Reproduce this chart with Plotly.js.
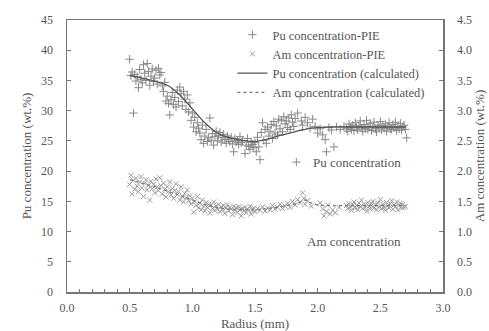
<!DOCTYPE html>
<html>
<head>
<meta charset="utf-8">
<script src="https://cdn.plot.ly/plotly-3.0.1.min.js"></script>
<style>html,body{margin:0;padding:0;background:#fff;}#chart{width:489px;height:331px;}</style>
</head>
<body>
<div id="chart"></div>
<script>
// Pu concentration measured (PIE), wt.%
const puRadius = [0.50,0.51,0.52,0.53,0.54,0.55,0.56,0.57,0.58,0.59,0.60,0.61,0.62,0.63,0.64,0.65,0.66,0.67,0.68,0.69,0.70,0.71,0.72,0.73,0.74,0.75,0.76,0.77,0.78,
  0.79,0.80,0.81,0.82,0.83,0.84,0.85,0.86,0.87,0.88,0.89,0.90,0.91,0.92,0.93,0.94,0.95,0.96,0.97,0.98,
  0.99,1.00,1.01,1.02,1.03,1.04,1.05,1.06,1.07,1.08,1.09,1.10,1.11,1.12,1.13,1.14,1.15,1.16,1.17,1.18,1.19,1.20,
  1.21,1.22,1.23,1.24,1.25,1.26,1.27,1.28,1.29,1.30,1.31,1.32,1.33,1.34,1.35,1.36,1.37,1.38,1.39,1.40,1.42,1.43,1.44,1.45,1.46,1.47,1.48,1.49,1.50,
  1.51,1.52,1.53,1.54,1.55,1.56,1.57,1.58,1.59,1.60,1.61,1.62,1.63,1.64,1.65,1.66,1.67,1.68,1.69,1.70,1.71,1.72,1.73,1.74,1.75,1.76,1.77,1.78,1.79,1.80,1.81,1.82,1.83,1.84,1.86,1.87,1.88,1.90,1.92,1.94,
  1.96,1.98,2.00,2.02,2.04,2.06,2.07,2.09,2.11,2.13,2.15,2.18,2.21,
  2.23,2.24,2.25,2.26,2.27,2.28,2.29,2.30,2.31,2.32,2.33,2.34,2.35,2.36,2.37,2.38,2.39,2.40,2.41,2.42,2.43,2.44,2.45,2.46,2.47,2.48,2.49,2.50,2.51,2.52,2.53,2.54,2.55,2.56,2.57,2.58,2.59,2.60,2.61,2.62,2.63,2.64,2.65,2.66,2.67,2.68,2.69,2.70,2.71];
const puPIE = [38.5,35.8,36.4,29.6,36.0,34.9,35.6,33.8,36.8,35.2,34.6,37.6,36.2,35.0,37.8,36.5,34.2,35.7,36.9,34.8,35.4,36.7,34.4,37.0,35.9,36.3,34.1,33.2,34.7,
  31.6,32.4,31.2,29.3,31.8,33.0,31.0,32.2,30.6,33.4,31.5,33.9,32.8,30.8,33.2,31.9,30.2,32.6,29.8,31.3,
  28.4,29.6,27.3,28.9,26.5,28.0,27.1,26.3,25.2,27.6,24.6,25.8,26.9,24.9,25.5,28.8,25.1,26.2,24.3,25.7,26.6,25.0,
  25.9,26.4,24.8,25.6,26.1,25.2,24.6,25.8,25.3,24.9,25.6,24.5,23.2,25.4,24.8,25.1,24.4,25.7,24.7,25.0,22.9,24.3,25.4,24.1,23.6,24.8,24.4,23.9,24.7,
  23.2,25.6,24.0,21.9,26.4,28.0,25.1,26.9,24.6,27.3,25.8,26.6,27.7,25.4,28.2,26.3,27.5,26.0,28.6,27.0,28.4,26.5,29.0,27.8,28.3,27.2,28.8,26.9,29.3,28.1,27.4,28.7,21.5,29.6,32.3,28.3,27.6,28.9,28.0,27.1,
  28.6,27.4,26.3,27.0,26.0,25.2,23.2,27.2,26.8,24.0,27.3,26.9,27.4,
  27.0,26.6,27.8,27.3,26.9,27.6,26.7,28.0,27.2,26.8,27.5,28.3,27.1,26.6,27.7,27.0,28.4,26.9,27.4,27.9,26.7,27.3,28.1,27.0,26.5,27.6,27.2,28.2,26.8,27.5,27.1,27.8,26.6,27.3,28.0,27.0,26.9,27.7,27.2,28.1,26.7,27.4,27.0,27.9,26.8,27.3,27.6,26.9,25.5];

// Am concentration measured (PIE), wt.%
const amRadius = [0.50,0.51,0.52,0.53,0.54,0.55,0.56,0.57,0.58,0.59,0.60,0.61,0.62,0.63,0.64,0.65,0.66,0.67,0.68,0.69,0.70,0.71,0.72,0.73,0.74,0.75,0.76,0.77,0.78,0.79,
  0.80,0.81,0.82,0.83,0.84,0.85,0.86,0.87,0.88,0.89,0.90,0.91,0.92,0.93,0.94,0.95,0.96,0.97,0.98,0.99,
  1.00,1.01,1.02,1.03,1.04,1.05,1.06,1.07,1.08,1.09,1.10,1.11,1.12,1.13,1.14,1.15,1.16,1.17,1.18,1.19,
  1.20,1.21,1.22,1.23,1.24,1.25,1.26,1.27,1.28,1.29,1.30,1.31,1.32,1.33,1.34,1.35,1.36,1.37,1.38,1.39,
  1.40,1.41,1.42,1.43,1.44,1.45,1.46,1.47,1.48,1.49,1.50,1.52,1.54,1.56,1.58,1.60,1.62,1.64,1.66,1.68,
  1.70,1.72,1.74,1.76,1.78,1.80,1.82,1.84,1.86,1.88,1.89,1.90,1.92,1.95,
  2.02,2.04,2.05,2.07,2.08,2.10,2.12,2.14,2.17,
  2.23,2.24,2.25,2.26,2.27,2.28,2.29,2.30,2.31,2.32,2.33,2.34,2.35,2.36,2.37,2.38,2.39,2.40,2.41,2.42,2.43,2.44,2.45,2.46,2.47,2.48,2.49,2.50,
  2.51,2.52,2.53,2.54,2.55,2.56,2.57,2.58,2.59,2.60,2.61,2.62,2.63,2.64,2.65,2.66,2.67,2.68,2.69,2.70];
const amPIE = [1.78,1.93,1.62,1.85,1.70,1.88,1.75,1.66,1.82,1.91,1.72,1.58,1.80,1.86,1.69,1.76,1.52,1.83,1.71,1.78,1.64,1.87,1.74,1.68,1.89,1.76,1.62,1.80,1.70,1.57,
  1.74,1.66,1.82,1.60,1.71,1.55,1.68,1.79,1.61,1.66,1.52,1.74,1.58,1.49,1.63,1.56,1.69,1.51,1.59,1.46,
  1.55,1.32,1.50,1.43,1.58,1.39,1.47,1.36,1.52,1.42,1.34,1.48,1.40,1.45,1.31,1.44,1.38,1.49,1.35,1.42,
  1.37,1.45,1.33,1.41,1.36,1.43,1.30,1.39,1.44,1.34,1.40,1.37,1.28,1.42,1.35,1.39,1.32,1.41,1.36,1.26,
  1.38,1.34,1.40,1.31,1.37,1.35,1.42,1.29,1.36,1.39,1.33,1.38,1.35,1.41,1.34,1.39,1.36,1.43,1.37,1.40,
  1.45,1.38,1.42,1.47,1.40,1.50,1.44,1.53,1.48,1.64,1.55,1.45,1.51,1.42,
  1.47,1.38,1.26,1.33,1.44,1.29,1.36,1.31,1.40,
  1.43,1.38,1.46,1.41,1.35,1.44,1.49,1.39,1.43,1.36,1.47,1.41,1.52,1.38,1.45,1.40,1.34,1.48,1.42,1.37,1.46,1.50,1.39,1.44,1.36,1.47,1.41,1.53,
  1.38,1.45,1.40,1.35,1.48,1.43,1.39,1.46,1.51,1.37,1.44,1.41,1.49,1.36,1.43,1.47,1.39,1.45,1.40,1.42];

// Calculated profiles
const calcRadius = [0.50,0.60,0.70,0.80,0.90,1.00,1.10,1.20,1.30,1.40,1.50,1.60,1.70,1.80,1.85,1.90,1.95,2.00,2.10,2.20,2.30,2.40,2.50,2.60,2.70];
const puCalc = [35.8,35.4,34.9,34.2,32.6,30.3,28.0,26.3,25.5,25.1,24.9,25.3,25.9,26.4,26.7,26.9,27.1,27.2,27.3,27.3,27.3,27.3,27.3,27.3,27.3];
const amCalc = [1.86,1.80,1.74,1.67,1.60,1.52,1.45,1.40,1.37,1.36,1.36,1.38,1.41,1.45,1.48,1.52,1.47,1.44,1.43,1.43,1.43,1.43,1.43,1.43,1.43];

const FONT = '"Liberation Serif", "Times New Roman", serif';
const TXT = '#555';
const TICKFONT = {family: FONT, size: 12, color: TXT};
const TITLEFONT = {family: FONT, size: 13, color: TXT};

const traces = [
  {x: puRadius, y: puPIE, name: 'Pu concentration-PIE', type: 'scatter', mode: 'markers', yaxis: 'y',
   marker: {symbol: 'cross-thin-open', size: 6, line: {color: '#888', width: 1}, color: '#888'}},
  {x: amRadius, y: amPIE, name: 'Am concentration-PIE', type: 'scatter', mode: 'markers', yaxis: 'y2',
   marker: {symbol: 'x-thin-open', size: 5, line: {color: '#999', width: 1}, color: '#999'}},
  {x: calcRadius, y: puCalc, name: 'Pu concentration (calculated)', type: 'scatter', mode: 'lines', yaxis: 'y',
   line: {color: '#555', width: 1.3, shape: 'spline'}},
  {x: calcRadius, y: amCalc, name: 'Am concentration (calculated)', type: 'scatter', mode: 'lines', yaxis: 'y2',
   line: {color: '#777', width: 1.2, dash: 'dot', shape: 'spline'}}
];

const layout = {
  width: 489, height: 331,
  margin: {l: 67, r: 46, t: 20, b: 39},
  paper_bgcolor: '#fff', plot_bgcolor: '#fff',
  font: {family: FONT, size: 13, color: TXT},
  showlegend: true,
  legend: {x: 0.44, xanchor: 'left', y: 1.0, yanchor: 'top', bgcolor: 'rgba(0,0,0,0)',
           font: {family: FONT, size: 12.5, color: TXT}, tracegroupgap: 0, itemwidth: 30},
  xaxis: {range: [0, 3], dtick: 0.5, tick0: 0, tickformat: '.1f', showgrid: false, zeroline: false,
          showline: true, linecolor: '#777', linewidth: 1.5, mirror: true,
          ticks: 'inside', ticklen: 4, tickcolor: '#777', tickwidth: 1, ticklabelstandoff: 4,
          minor: {dtick: 0.1, ticks: 'inside', ticklen: 3, tickcolor: '#777', tickwidth: 1},
          title: {text: 'Radius (mm)', font: TITLEFONT, standoff: 6},
          tickfont: TICKFONT},
  yaxis: {range: [0, 45], dtick: 5, tick0: 0, showgrid: false, zeroline: false,
          showline: true, linecolor: '#777', linewidth: 1.5,
          ticks: 'inside', ticklen: 4, tickcolor: '#777', tickwidth: 1, ticklabelstandoff: 10,
          title: {text: 'Pu concentration (wt.%)', font: TITLEFONT},
          tickfont: TICKFONT},
  yaxis2: {range: [0, 4.5], dtick: 0.5, tick0: 0, tickformat: '.1f', overlaying: 'y', side: 'right',
           showgrid: false, zeroline: false, showline: true, linecolor: '#777', linewidth: 1.5,
           ticks: 'inside', ticklen: 4, tickcolor: '#777', tickwidth: 1, ticklabelstandoff: 10,
           title: {text: 'Am concentration (wt.%)', font: TITLEFONT, standoff: 2},
           tickfont: TICKFONT},
  annotations: [
    {x: 2.31, y: 21.5, xref: 'x', yref: 'y', text: 'Pu concentration', showarrow: false, font: TITLEFONT},
    {x: 2.29, y: 8.3, xref: 'x', yref: 'y', text: 'Am concentration', showarrow: false, font: TITLEFONT}
  ]
};

Plotly.newPlot('chart', traces, layout, {displayModeBar: false, staticPlot: true});
</script>
</body>
</html>
